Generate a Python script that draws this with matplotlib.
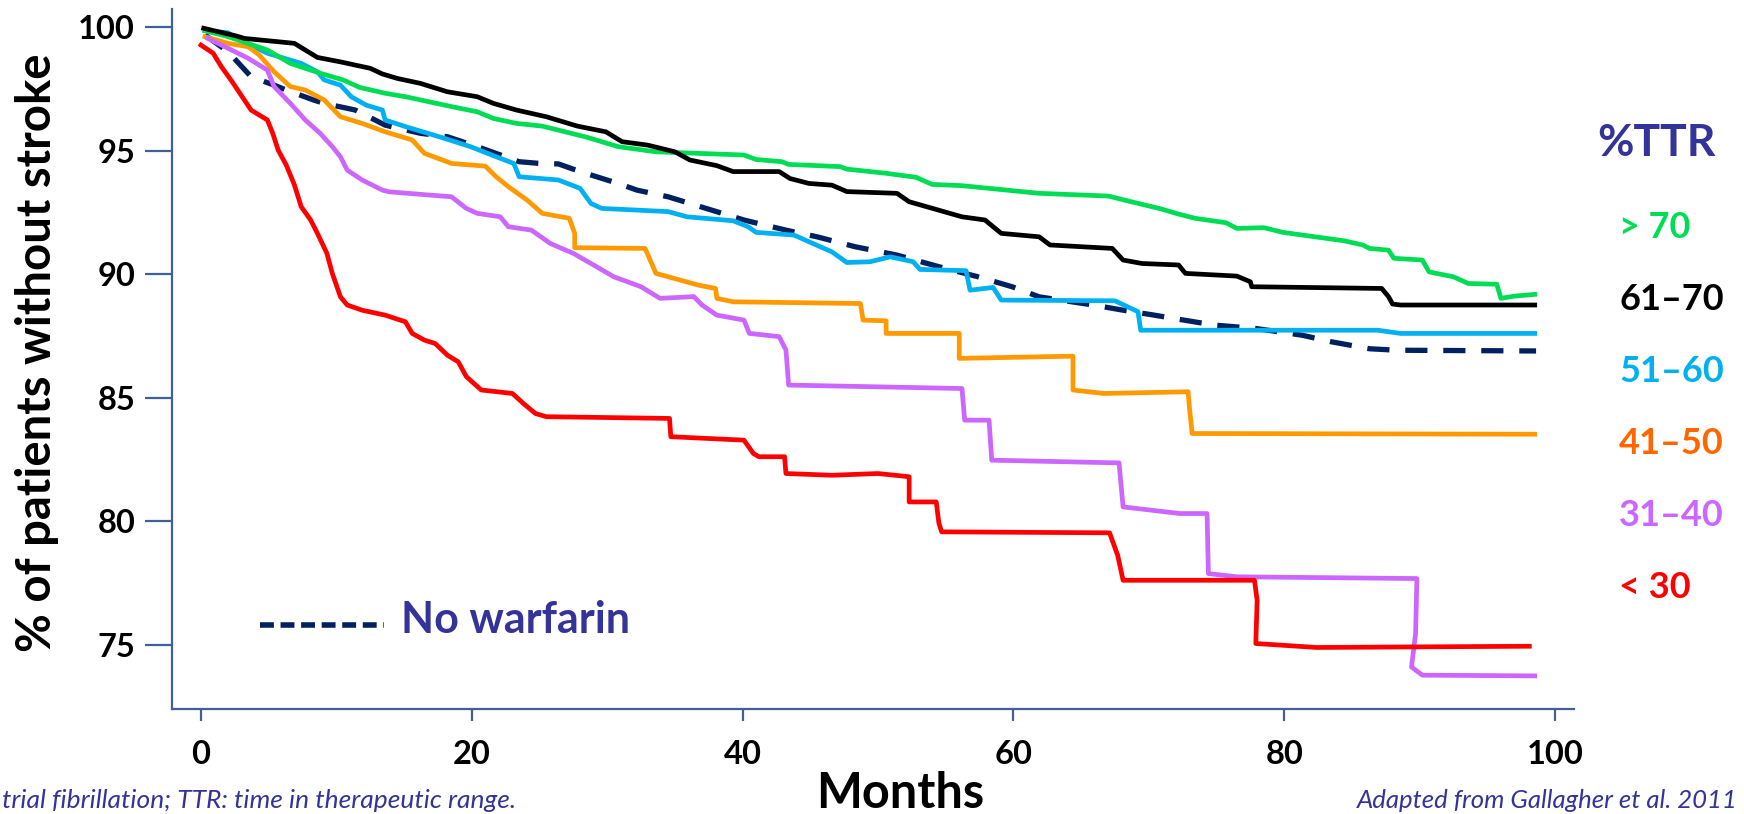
import matplotlib
matplotlib.use("Agg")
from matplotlib import pyplot as plt

plt.rcParams['font.family'] = ['Lato', 'DejaVu Sans']

# --- data (months, % without stroke) ---
green_x = [0.3, 2.0, 4.9, 6.6, 8.8, 10.5, 11.7, 13.6, 15.1, 16.8, 18.5, 20.4, 21.6, 23.3,
           25.2, 26.9, 28.5, 30.8, 33.6, 40.1, 41.0, 42.9, 43.4, 47.2, 47.7, 50.6, 52.8,
           54.0, 56.2, 61.9, 67.0, 68.7, 70.9, 72.0, 73.4, 75.7, 76.5, 78.5, 79.9, 84.4,
           85.8, 86.3, 87.7, 88.1, 90.2, 90.7, 92.5, 93.6, 95.7, 96.0, 97.0, 98.5]
green_y = [99.86, 99.62, 99.08, 98.54, 98.14, 97.87, 97.57, 97.33, 97.19, 96.99, 96.79,
           96.58, 96.31, 96.11, 96.00, 95.77, 95.55, 95.17, 94.96, 94.83, 94.65, 94.56,
           94.45, 94.36, 94.26, 94.09, 93.93, 93.64, 93.59, 93.28, 93.17, 92.94, 92.65,
           92.47, 92.27, 92.09, 91.86, 91.89, 91.70, 91.36, 91.19, 91.05, 90.98, 90.65,
           90.58, 90.10, 89.90, 89.63, 89.60, 89.03, 89.12, 89.19]

black_x = [0.2, 2.6, 3.2, 6.9, 7.7, 8.6, 10.3, 11.9, 12.5, 13.4, 14.5, 16.2, 18.2, 20.4,
           21.6, 23.3, 25.5, 27.8, 29.9, 31.1, 33.0, 35.0, 36.1, 38.1, 39.3, 42.7, 43.5,
           44.9, 46.6, 47.7, 51.4, 52.3, 56.2, 57.9, 59.1, 61.9, 62.7, 67.3, 68.1, 69.5,
           72.2, 72.7, 76.5, 77.5, 77.6, 87.2, 87.7, 88.0, 88.6, 98.5]
black_y = [99.96, 99.65, 99.55, 99.35, 99.08, 98.78, 98.60, 98.41, 98.34, 98.11, 97.93,
           97.73, 97.39, 97.19, 96.92, 96.65, 96.38, 96.00, 95.77, 95.37, 95.23, 94.96,
           94.63, 94.40, 94.16, 94.16, 93.88, 93.68, 93.61, 93.35, 93.28, 92.94, 92.33,
           92.20, 91.66, 91.52, 91.19, 91.05, 90.58, 90.44, 90.38, 90.04, 89.93, 89.70,
           89.50, 89.43, 89.10, 88.80, 88.76, 88.76]

cyan_x = [0.3, 2.0, 2.6, 4.9, 7.4, 8.6, 9.1, 10.3, 11.1, 12.2, 13.4, 13.6, 15.1, 17.6,
          19.9, 21.8, 23.1, 23.5, 26.4, 28.0, 28.8, 29.6, 34.5, 35.9, 39.3, 40.4, 41.0,
          43.8, 44.9, 46.6, 47.7, 49.4, 50.9, 52.6, 53.1, 56.5, 56.8, 58.5, 59.1, 67.5,
          69.2, 69.4, 86.9, 88.6, 98.5]
cyan_y = [99.86, 99.78, 99.55, 98.95, 98.54, 98.20, 97.87, 97.66, 97.19, 96.85, 96.65,
          96.25, 95.98, 95.57, 95.17, 94.76, 94.49, 93.95, 93.82, 93.48, 92.87, 92.67,
          92.54, 92.33, 92.17, 91.93, 91.70, 91.59, 91.32, 90.91, 90.48, 90.51, 90.71,
          90.51, 90.20, 90.15, 89.36, 89.47, 88.96, 88.93, 88.49, 87.74, 87.74, 87.61,
          87.61]

nowarf_x = [0.3, 2.0, 3.7, 5.4, 6.3, 8.3, 9.1, 11.4, 13.6, 16.2, 18.2, 20.4, 23.5, 25.0,
            26.4, 28.0, 30.8, 32.2, 34.5, 37.3, 40.1, 43.2, 45.5, 48.3, 51.4, 54.5, 57.4,
            59.9, 61.9, 65.9, 68.1, 70.4, 71.8, 74.8, 77.9, 81.3, 83.5, 86.3, 88.3, 98.6]
nowarf_y = [99.69, 99.01, 98.00, 97.66, 97.46, 97.06, 96.92, 96.65, 96.04, 95.71, 95.57,
            95.17, 94.56, 94.49, 94.47, 94.16, 93.68, 93.41, 93.14, 92.67, 92.20, 91.79,
            91.52, 91.12, 90.78, 90.31, 89.90, 89.50, 89.09, 88.76, 88.55, 88.35, 88.22,
            87.95, 87.81, 87.54, 87.27, 86.99, 86.93, 86.90]

orange_x = [0.3, 2.0, 3.5, 4.3, 5.4, 6.6, 7.7, 9.1, 10.3, 11.9, 13.6, 15.6, 16.5, 18.5,
            21.0, 21.8, 22.7, 24.1, 25.2, 27.2, 27.6, 27.6, 32.8, 33.6, 36.7, 38.0, 38.1,
            39.3, 48.7, 48.9, 50.6, 50.6, 56.0, 56.0, 64.4, 64.4, 66.7, 72.9, 73.0, 73.2,
            98.5]
orange_y = [99.62, 99.35, 99.21, 98.88, 98.20, 97.60, 97.46, 97.06, 96.38, 96.11, 95.77,
            95.44, 94.90, 94.49, 94.38, 93.95, 93.55, 93.00, 92.47, 92.27, 91.66, 91.08,
            91.05, 90.04, 89.57, 89.43, 89.03, 88.89, 88.82, 88.15, 88.12, 87.61, 87.61,
            86.60, 86.69, 85.32, 85.18, 85.25, 84.60, 83.56, 83.53]

purple_x = [0.5, 2.0, 3.5, 4.9, 5.4, 6.6, 7.7, 8.8, 9.7, 10.3, 10.8, 11.9, 13.4, 13.9,
            18.5, 19.6, 20.4, 22.1, 22.7, 24.4, 25.8, 27.5, 28.8, 30.5, 32.5, 33.9, 36.4,
            37.0, 38.1, 40.1, 40.5, 42.7, 43.2, 43.4, 56.2, 56.4, 58.2, 58.4, 67.8, 68.1,
            72.3, 74.3, 74.4, 76.5, 89.8, 89.7, 89.4, 90.2, 98.5]
purple_y = [99.55, 99.15, 98.74, 98.27, 97.60, 96.92, 96.25, 95.71, 95.17, 94.76, 94.22,
            93.82, 93.41, 93.34, 93.14, 92.67, 92.47, 92.33, 91.93, 91.79, 91.25, 90.85,
            90.44, 89.90, 89.50, 89.03, 89.10, 88.76, 88.35, 88.15, 87.61, 87.48, 86.94,
            85.52, 85.38, 84.10, 84.10, 82.48, 82.37, 80.59, 80.32, 80.32, 77.89, 77.76,
            77.69, 75.46, 74.11, 73.78, 73.75]

red_x = [0.0, 0.9, 1.5, 2.3, 3.2, 3.7, 4.9, 5.3, 5.7, 6.3, 6.9, 7.4, 8.1, 8.6, 9.3, 9.7,
         10.3, 10.8, 11.9, 13.6, 15.1, 15.6, 16.5, 17.3, 18.2, 19.0, 19.6, 20.7, 23.0,
         23.8, 24.7, 25.5, 34.6, 34.7, 40.1, 40.8, 41.2, 43.1, 43.2, 46.6, 50.0, 52.3,
         52.3, 54.3, 54.5, 54.7, 67.1, 67.7, 68.1, 77.8, 78.0, 77.9, 82.4, 98.1]
red_y = [99.28, 98.95, 98.41, 97.80, 97.06, 96.65, 96.25, 95.71, 95.03, 94.42, 93.62,
         92.74, 92.20, 91.66, 90.85, 90.04, 89.09, 88.76, 88.55, 88.35, 88.08, 87.61,
         87.34, 87.20, 86.73, 86.46, 85.86, 85.32, 85.18, 84.78, 84.37, 84.24, 84.17,
         83.43, 83.29, 82.75, 82.62, 82.62, 81.94, 81.87, 81.94, 81.81, 80.79, 80.79,
         79.92, 79.58, 79.54, 78.63, 77.62, 77.62, 76.81, 75.06, 74.90, 74.95]

ttr_labels = ["> 70", "61\u201370", "51\u201360", "41\u201350", "31\u201340", "< 30"]
x_ticks = [0, 20, 40, 60, 80, 100]
y_ticks = [75, 80, 85, 90, 95, 100]

W, H = 1744, 814
def fx(px):
    return px / W
def fy(py):
    return 1 - py / H

axis_col = '#41609A'
text_blue = '#333399'
navy = '#002060'

fig = plt.figure(figsize=(W / 100, H / 100), dpi=100)
ax = fig.add_axes([fx(172), fy(709), (1574 - 172) / W, (709 - 9) / H])

lw = 3.4
ax.plot(nowarf_x, nowarf_y, color=navy, lw=3.8, dashes=(4.2, 3.0))
ax.plot(cyan_x, cyan_y, color='#00B0F0', lw=lw)
ax.plot(orange_x, orange_y, color='#FF9900', lw=lw)
ax.plot(purple_x, purple_y, color='#CC66FF', lw=lw)
ax.plot(green_x, green_y, color='#00DD55', lw=lw)
ax.plot(black_x, black_y, color='black', lw=lw)
ax.plot(red_x, red_y, color='#FF0000', lw=lw)

ax.set_xlim(-2.14, 101.4)
ax.set_ylim(72.41, 100.74)
ax.set_xticks(x_ticks)
ax.set_yticks(y_ticks)
for s in ['top', 'right']:
    ax.spines[s].set_visible(False)
for s in ['left', 'bottom']:
    ax.spines[s].set_color(axis_col)
    ax.spines[s].set_linewidth(1.6)
ax.tick_params(axis='y', length=19.5, width=1.6, color=axis_col, pad=7, labelsize=23.5)
ax.tick_params(axis='x', length=8.6, width=1.6, color=axis_col, pad=14, labelsize=23.5)
for lbl in ax.get_xticklabels() + ax.get_yticklabels():
    lbl.set_fontweight('bold')

# axis titles
fig.text(fx(37), fy(353), "% of patients without stroke", rotation=90, ha='center',
         va='center', fontsize=34, fontweight='bold')
fig.text(fx(900), fy(808), "Months", ha='center', va='baseline', fontsize=35,
         fontweight='bold')

# No warfarin key
ax.plot([fx(260), fx(384)], [fy(625), fy(625)], transform=fig.transFigure, color=navy,
        lw=4, dashes=(2.5, 1.2), clip_on=False)
fig.text(fx(401), fy(620), "No warfarin", ha='left', va='center', fontsize=31,
         fontweight='bold', color=text_blue)

# %TTR labels
fig.text(fx(1597), fy(143), "%TTR", ha='left', va='center', fontsize=32,
         fontweight='bold', color=text_blue)
label_cols = ['#00DD55', 'black', '#00B0F0', '#FF6600', '#CC66FF', '#FF0000']
label_ys = [227, 300, 372, 443, 515, 588]
for t, c, y in zip(ttr_labels, label_cols, label_ys):
    fig.text(fx(1619), fy(y), t, ha='left', va='center', fontsize=26,
             fontweight='bold', color=c)

# footnotes
fig.text(fx(2), fy(800), "trial fibrillation; TTR: time in therapeutic range.",
         ha='left', va='center', fontsize=19, style='italic', color=text_blue)
fig.text(fx(1738), fy(800), "Adapted from Gallagher et al. 2011", ha='right',
         va='center', fontsize=18.5, style='italic', color=text_blue)

fig.savefig("out.png", dpi=100)
